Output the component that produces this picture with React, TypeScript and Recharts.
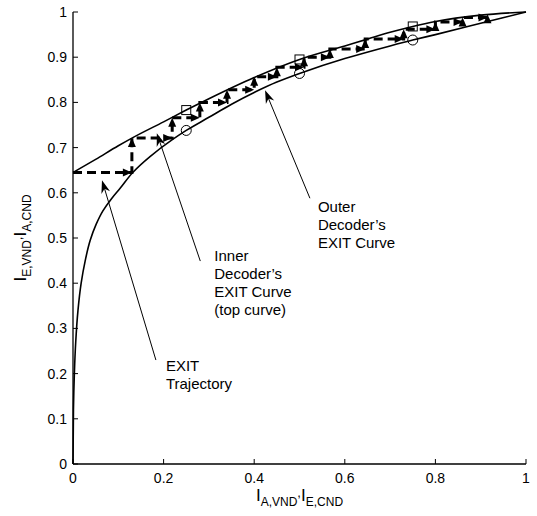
import React from "react";
import { ComposedChart, Line, Scatter, XAxis, YAxis, ReferenceLine } from "recharts";

// inner decoder EXIT curve (top curve)
const innerX = [0, 0.05, 0.1, 0.13, 0.2, 0.25, 0.3, 0.4, 0.5, 0.6, 0.65, 0.7, 0.75, 0.8, 0.9, 1];
const innerY = [0.645, 0.674, 0.704, 0.721, 0.757, 0.783, 0.808, 0.855, 0.895, 0.925, 0.94, 0.955, 0.968, 0.979, 0.993, 1];

// outer decoder EXIT curve (bottom curve), drawn as x over y
const outerX = [0, 0.001, 0.003, 0.006, 0.011, 0.018, 0.027, 0.038, 0.051, 0.066, 0.085, 0.104, 0.132, 0.17, 0.22, 0.25, 0.3, 0.35, 0.4, 0.45, 0.5, 0.6, 0.7, 0.75, 0.8, 0.9, 1];
const outerY = [0, 0.12, 0.2, 0.27, 0.34, 0.4, 0.45, 0.495, 0.53, 0.56, 0.587, 0.61, 0.645, 0.68, 0.718, 0.738, 0.767, 0.796, 0.822, 0.845, 0.864, 0.897, 0.925, 0.938, 0.95, 0.975, 1];

// staircase trajectory
const trajX = [0, 0.13, 0.13, 0.219, 0.219, 0.28, 0.28, 0.34, 0.34, 0.4, 0.4, 0.45, 0.45, 0.51, 0.51, 0.567, 0.567, 0.645, 0.645, 0.73, 0.73, 0.8, 0.8, 0.86, 0.86, 0.915, 0.915];
const trajY = [0.645, 0.645, 0.721, 0.721, 0.766, 0.766, 0.8, 0.8, 0.828, 0.828, 0.857, 0.857, 0.878, 0.878, 0.9, 0.9, 0.918, 0.918, 0.94, 0.94, 0.962, 0.962, 0.978, 0.978, 0.988, 0.988, 0.995];

// marker points
const markX = [0.25, 0.5, 0.75];
const squareY = [0.783, 0.895, 0.968];
const circleY = [0.738, 0.864, 0.938];

const xTicks = [0, 0.2, 0.4, 0.6, 0.8, 1];
const yTicks = [0, 0.1, 0.2, 0.3, 0.4, 0.5, 0.6, 0.7, 0.8, 0.9, 1];

const annotations = [
  { lines: ["EXIT", "Trajectory"], from: [0.183, 0.23], to: [0.064, 0.628], dx: 10, dy: 6 },
  { lines: ["Inner", "Decoder\u2019s", "EXIT Curve", "(top curve)"], from: [0.281, 0.449], to: [0.185, 0.732], dx: 14, dy: -5 },
  { lines: ["Outer", "Decoder\u2019s", "EXIT Curve"], from: [0.523, 0.588], to: [0.424, 0.827], dx: 8, dy: 9 },
];

const zip = (xs: number[], ys: number[]) => xs.map((x, i) => ({ x, y: ys[i] }));
const innerData = zip(innerX, innerY);
const outerData = zip(outerX, outerY);
const trajData = zip(trajX, trajY);
const squareData = zip(markX, squareY);
const circleData = zip(markX, circleY);

const FONT = "'Liberation Sans', Arial, Helvetica, sans-serif";
const tickStyle = { fontSize: 14, fill: "#000", fontFamily: FONT };

const fmt = (v: number) => String(Math.round(v * 10) / 10);

function arrowDot(p: any) {
  const { cx, cy, index } = p;
  if (!index) return <g key="ad0" />;
  const prev = trajData[index - 1];
  const cur = trajData[index];
  const pts =
    prev.x === cur.x
      ? `${cx},${cy} ${cx - 4},${cy + 9} ${cx + 4},${cy + 9}`
      : `${cx},${cy} ${cx - 9},${cy - 4} ${cx - 9},${cy + 4}`;
  return <polygon key={`ad${index}`} points={pts} fill="#000" />;
}

function makeAnnotation(lines: string[], dx: number, dy: number) {
  return (p: any) => {
    const { x1, y1, x2, y2 } = p;
    const len = Math.hypot(x2 - x1, y2 - y1) || 1;
    const ux = (x2 - x1) / len;
    const uy = (y2 - y1) / len;
    const nx = -uy;
    const ny = ux;
    const bx = x2 - 13 * ux;
    const by = y2 - 13 * uy;
    const head = `${x2},${y2} ${bx + 4.5 * nx},${by + 4.5 * ny} ${x2 - 9 * ux},${y2 - 9 * uy} ${bx - 4.5 * nx},${by - 4.5 * ny}`;
    return (
      <g>
        <line x1={x1} y1={y1} x2={x2 - 8 * ux} y2={y2 - 8 * uy} stroke="#000" strokeWidth={1} />
        <polygon points={head} fill="#000" />
        <text fontSize={15} fontFamily={FONT} fill="#000">
          {lines.map((t, i) => (
            <tspan key={t} x={x1 + dx} y={y1 + dy + 5 + i * 18}>
              {t}
            </tspan>
          ))}
        </text>
      </g>
    );
  };
}

function XTitle(props: any) {
  const vb = props.viewBox || {};
  const cx = vb.x + vb.width / 2;
  return (
    <text x={cx} y={501} textAnchor="middle" fontFamily={FONT} fill="#000">
      <tspan fontSize={17}>I</tspan>
      <tspan fontSize={12} dy={5}>A,VND</tspan>
      <tspan fontSize={13} dy={-9}>,</tspan>
      <tspan fontSize={17} dy={4}>I</tspan>
      <tspan fontSize={12} dy={5}>E,CND</tspan>
    </text>
  );
}

function YTitle(props: any) {
  const vb = props.viewBox || {};
  const cy = vb.y + vb.height / 2;
  const cx = 26;
  return (
    <text x={cx} y={cy} textAnchor="middle" fontFamily={FONT} fill="#000" transform={`rotate(-90, ${cx}, ${cy})`}>
      <tspan fontSize={17}>I</tspan>
      <tspan fontSize={12} dy={5}>E,VND</tspan>
      <tspan fontSize={13} dy={-9}>,</tspan>
      <tspan fontSize={17} dy={4}>I</tspan>
      <tspan fontSize={12} dy={5}>A,CND</tspan>
    </text>
  );
}

export default function App() {
  const axisLine = { stroke: "#000", strokeWidth: 1.3 };
  const tickLine = { stroke: "#000", strokeWidth: 1 };
  return (
    <div style={{ position: "absolute", left: 0, top: 0, width: 537, height: 516, background: "#fff" }}>
      <ComposedChart width={537} height={516} margin={{ top: 12, right: 11, bottom: 12, left: 23 }}>
        <XAxis
          type="number"
          dataKey="x"
          domain={[0, 1]}
          ticks={xTicks}
          tickFormatter={fmt}
          height={40}
          tickSize={-5}
          tickMargin={14}
          axisLine={axisLine}
          tickLine={tickLine}
          tick={tickStyle}
          interval={0}
          label={<XTitle />}
        />
        <XAxis
          xAxisId="top"
          orientation="top"
          type="number"
          dataKey="x"
          domain={[0, 1]}
          ticks={xTicks}
          height={0}
          tickSize={-5}
          tick={false}
          axisLine={axisLine}
          tickLine={tickLine}
        />
        <YAxis
          type="number"
          dataKey="y"
          domain={[0, 1]}
          ticks={yTicks}
          tickFormatter={fmt}
          width={50}
          tickSize={-5}
          tickMargin={11}
          axisLine={axisLine}
          tickLine={tickLine}
          tick={tickStyle}
          interval={0}
          label={<YTitle />}
        />
        <YAxis
          yAxisId="right"
          orientation="right"
          type="number"
          dataKey="y"
          domain={[0, 1]}
          ticks={yTicks}
          width={0}
          tickSize={-5}
          tick={false}
          axisLine={axisLine}
          tickLine={tickLine}
        />
        <Line data={outerData} dataKey="y" type="monotoneY" stroke="#000" strokeWidth={1.6} dot={false} isAnimationActive={false} />
        <Line data={innerData} dataKey="y" type="monotone" stroke="#000" strokeWidth={1.6} dot={false} isAnimationActive={false} />
        <Line
          data={trajData}
          dataKey="y"
          type="linear"
          stroke="#000"
          strokeWidth={3}
          strokeDasharray="9 5"
          dot={arrowDot}
          isAnimationActive={false}
        />
        <Scatter
          data={squareData}
          isAnimationActive={false}
          shape={(p: any) => <rect x={p.cx - 4.5} y={p.cy - 4.5} width={9} height={9} fill="none" stroke="#000" strokeWidth={1} />}
        />
        <Scatter
          data={circleData}
          isAnimationActive={false}
          shape={(p: any) => <circle cx={p.cx} cy={p.cy} r={5} fill="none" stroke="#000" strokeWidth={1} />}
        />
        {annotations.map((a, i) => (
          <ReferenceLine
            key={i}
            segment={[
              { x: a.from[0], y: a.from[1] },
              { x: a.to[0], y: a.to[1] },
            ]}
            shape={makeAnnotation(a.lines, a.dx, a.dy)}
          />
        ))}
      </ComposedChart>
    </div>
  );
}
